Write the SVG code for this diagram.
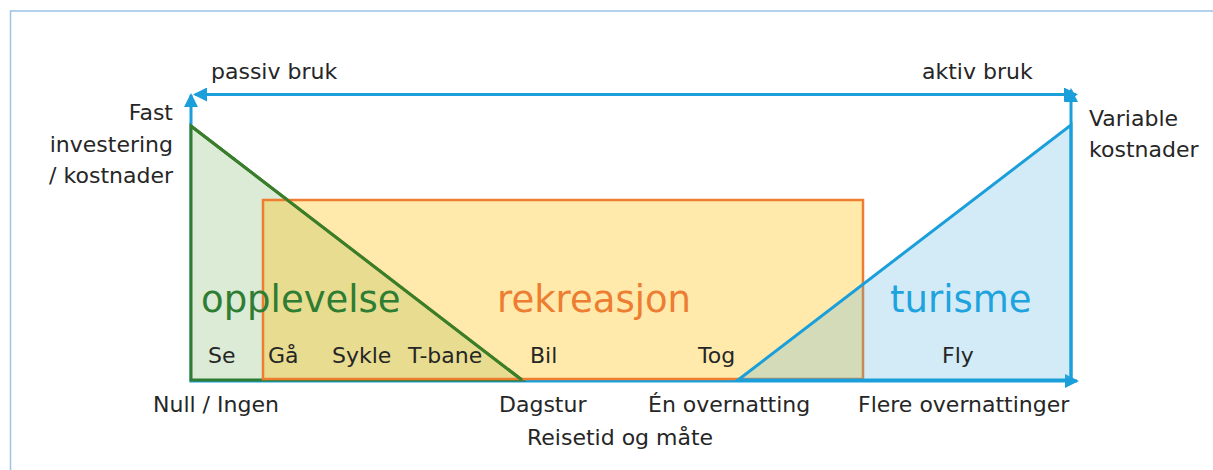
<svg xmlns="http://www.w3.org/2000/svg" width="1213" height="470" viewBox="0 0 1213 470">
  <defs>
    <marker id="arrow" viewBox="0 0 14 14" markerUnits="userSpaceOnUse" markerWidth="14" markerHeight="14" refX="12" refY="7" orient="auto-start-reverse">
      <path d="M0,0 L14,7 L0,14 z" fill="#1b9fdb"/>
    </marker>
    <style>
      .frame { fill: none; stroke: #9dc3e6; stroke-width: 1.5; }
      .axis { fill: none; stroke: #1b9fdb; stroke-width: 3; }
      .lbl { font-family: "DejaVu Sans", "Liberation Sans", sans-serif; font-size: 22px; fill: #262626; }
      .big { font-family: "DejaVu Sans", "Liberation Sans", sans-serif; font-size: 37px; }
    </style>
  </defs>

  <rect width="1213" height="470" fill="#ffffff"/>
  <!-- outer frame -->
  <path class="frame" d="M10.5,470 V11 H1213"/>

  <!-- axes and the usage arrow -->
  <g id="connectors">
    <line class="axis" x1="191" y1="380" x2="191" y2="95" marker-end="url(#arrow)"/>
    <line class="axis" x1="1071" y1="380" x2="1071" y2="90" marker-end="url(#arrow)"/>
    <line class="axis" x1="195" y1="94.5" x2="1076" y2="94.5" marker-start="url(#arrow)" marker-end="url(#arrow)"/>
    <line class="axis" x1="189.5" y1="381" x2="1077" y2="381" stroke-width="3.5" marker-end="url(#arrow)"/>
  </g>

  <!-- fixed-cost triangle: opplevelse -->
  <g id="opplevelse">
    <polygon points="191,126 191,380 522,380" fill="#dcebd5" stroke="#2e7d32" stroke-width="3" stroke-linejoin="miter"/>
  </g>

  <!-- recreation band -->
  <g id="rekreasjon">
    <rect x="263" y="200" width="600" height="179" fill="#ffc000" fill-opacity="0.33" stroke="#ed7d31" stroke-width="2.5"/>
  </g>

  <!-- slope of the fixed-cost triangle, kept above the band -->
  <line x1="191" y1="126" x2="522" y2="380" stroke="#3a7d2a" stroke-width="3"/>

  <!-- variable-cost triangle: turisme -->
  <g id="turisme">
    <polygon points="738,380 1071,125 1071,380" fill="#4fb0e0" fill-opacity="0.25" stroke="#1b9fdb" stroke-width="3"/>
  </g>

  <!-- zone names -->
  <g id="zone-names">
    <text class="big" x="201" y="312" fill="#2e7d32">opplevelse</text>
    <text class="big" x="497" y="312" fill="#ed7d31">rekreasjon</text>
    <text class="big" x="890" y="312" fill="#1ea3de">turisme</text>
  </g>

  <!-- axis captions -->
  <g id="axis-labels">
    <text class="lbl" x="211" y="79">passiv bruk</text>
    <text class="lbl" x="922" y="79">aktiv bruk</text>
    <text class="lbl" x="173" y="120" text-anchor="end">Fast</text>
    <text class="lbl" x="173" y="152" text-anchor="end">investering</text>
    <text class="lbl" x="173" y="183" text-anchor="end">/ kostnader</text>
    <text class="lbl" x="1089" y="126">Variable</text>
    <text class="lbl" x="1089" y="157">kostnader</text>
    <text class="lbl" x="153" y="412">Null / Ingen</text>
    <text class="lbl" x="499" y="412">Dagstur</text>
    <text class="lbl" x="648" y="412">Én overnatting</text>
    <text class="lbl" x="858" y="412">Flere overnattinger</text>
    <text class="lbl" x="527" y="445">Reisetid og måte</text>
  </g>

  <!-- travel modes -->
  <g id="modes">
    <text class="lbl" x="208" y="363">Se</text>
    <text class="lbl" x="268" y="363">Gå</text>
    <text class="lbl" x="332" y="363">Sykle</text>
    <text class="lbl" x="408" y="363">T-bane</text>
    <text class="lbl" x="530" y="363">Bil</text>
    <text class="lbl" x="698" y="363">Tog</text>
    <text class="lbl" x="942" y="363">Fly</text>
  </g>
</svg>
